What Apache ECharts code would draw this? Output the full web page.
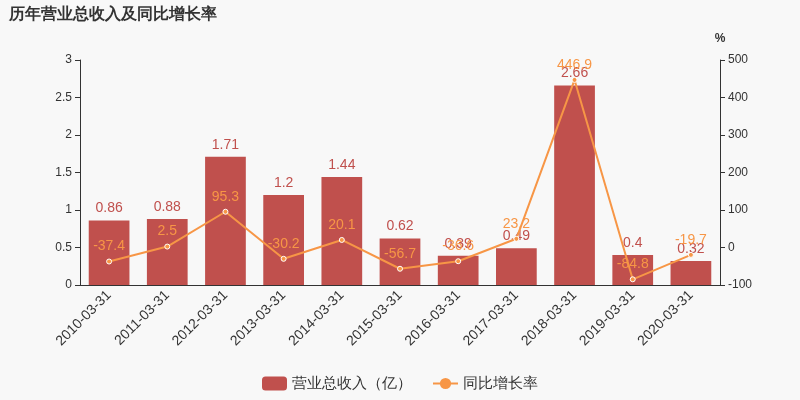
<!DOCTYPE html><html><head><meta charset="utf-8"><script src="https://cdn.jsdelivr.net/npm/echarts@6/dist/echarts.min.js"></script></head><body style="margin:0;background:#f8f8f8"><div id="c" style="width:800px;height:400px"></div><script>
const categories=['2010-03-31','2011-03-31','2012-03-31','2013-03-31','2014-03-31','2015-03-31','2016-03-31','2017-03-31','2018-03-31','2019-03-31','2020-03-31'];
const revenue=[0.86,0.88,1.71,1.2,1.44,0.62,0.39,0.49,2.66,0.4,0.32];
const growth=[-37.4,2.5,95.3,-30.2,20.1,-56.7,-36.6,23.2,446.9,-84.8,-19.7];
const c=echarts.init(document.getElementById('c'));
c.setOption({backgroundColor:'#f8f8f8',
title:{text:'历年营业总收入及同比增长率',left:4,top:2,textStyle:{fontSize:16,fontWeight:'bold',color:'#333'}},
legend:{bottom:4,itemGap:20,textStyle:{fontSize:15,color:'#333'},data:['营业总收入（亿）','同比增长率']},
grid:{left:80,right:80,top:60,bottom:115},
xAxis:{type:'category',data:categories,axisLabel:{rotate:45,fontSize:14,color:'#333',interval:0},axisLine:{lineStyle:{color:'#333'}},axisTick:{alignWithLabel:false}},
yAxis:[{type:'value',min:0,max:3,interval:0.5,splitLine:{show:false},axisLine:{show:true,lineStyle:{color:'#333'}},axisTick:{show:true},axisLabel:{color:'#333'}},
{type:'value',name:'%',nameTextStyle:{color:'#333',fontWeight:'bold'},min:-100,max:500,interval:100,splitLine:{show:false},axisLine:{show:true,lineStyle:{color:'#333'}},axisTick:{show:true},axisLabel:{color:'#333'}}],
series:[{name:'营业总收入（亿）',type:'bar',data:revenue,barWidth:'70%',itemStyle:{color:'#c0504d'},label:{show:true,position:'top',color:'#c0504d',fontSize:14}},
{name:'同比增长率',type:'line',yAxisIndex:1,data:growth,symbol:'circle',symbolSize:5,itemStyle:{color:'#f79646',borderColor:'#fff'},lineStyle:{color:'#f79646',width:2},label:{show:true,position:'top',color:'#f79646',fontSize:14}}]});
</script></body></html>
